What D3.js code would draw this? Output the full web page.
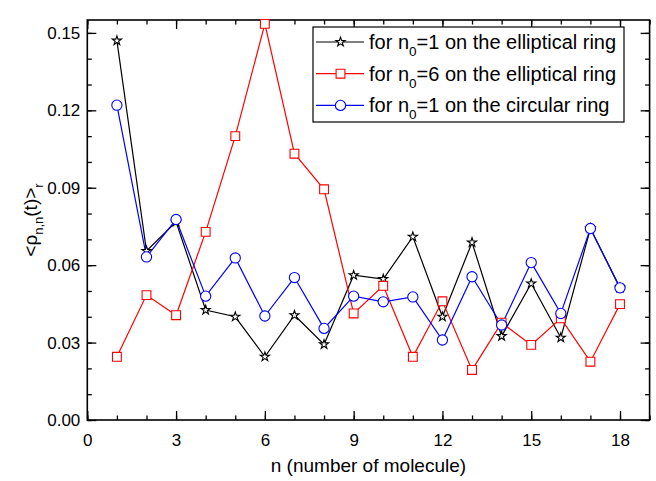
<!DOCTYPE html>
<html><head><meta charset="utf-8">
<script src="https://cdn.jsdelivr.net/npm/d3@7"></script>
<style>body{margin:0;background:#fff}svg{display:block}text{font-family:"Liberation Sans",Arial,sans-serif}</style>
</head><body><svg id="c" width="656" height="481"></svg>
<script>
const nValues = [1,2,3,4,5,6,7,8,9,10,11,12,13,14,15,16,17,18];
const ellipN1 = [0.147,0.0655,0.0768,0.0426,0.0400,0.0245,0.0406,0.0293,0.0561,0.0546,0.0710,0.0400,0.0688,0.0325,0.0529,0.0319,0.0742,0.0512];
const ellipN6 = [0.0245,0.0484,0.0406,0.0729,0.1100,0.1535,0.1032,0.0894,0.0413,0.0520,0.0245,0.0460,0.0194,0.0377,0.0291,0.0394,0.0226,0.0449];
const circN1  = [0.1220,0.0632,0.0777,0.0480,0.0628,0.0403,0.0552,0.0355,0.0480,0.0458,0.0477,0.0310,0.0555,0.0368,0.0610,0.0413,0.0742,0.0512];
const xTicks = [0,3,6,9,12,15,18];
const yTicks = [0.00,0.03,0.06,0.09,0.12,0.15];
const seriesNames = ["1 on the elliptical ring","6 on the elliptical ring","1 on the circular ring"];

const svg = d3.select("#c");
const L=87.3, R=649.6, T=20, B=420;
const x = d3.scaleLinear().domain([0,19]).range([L,R]);
const y = d3.scaleLinear().domain([0,0.155]).range([B,T]);

const series = [
  {vals: ellipN1, color:"#000000", sym:d3.symbolStar, size:26},
  {vals: ellipN6, color:"#ff0000", sym:d3.symbolSquare, size:78},
  {vals: circN1,  color:"#0000ff", sym:d3.symbolCircle, size:82}
];

const fmt = d3.format(".2f");
const minorX = d3.range(0,20,1), minorY = d3.range(0,0.155,0.01);
function drawAxis(axis, tr){ svg.append("g").attr("transform",tr).call(axis).call(g=>g.select(".domain").remove()).call(g=>g.selectAll("line").attr("stroke","#000").attr("stroke-width",1.3)); }
drawAxis(d3.axisBottom(x).tickValues(minorX).tickSize(-4.5).tickFormat(""), `translate(0,${B})`);
const bx = svg.append("g").attr("transform",`translate(0,${B})`).call(d3.axisBottom(x).tickValues(xTicks).tickSize(-9).tickPadding(14).tickFormat(d3.format("d")));
bx.select(".domain").remove();
bx.selectAll("line").attr("stroke","#000").attr("stroke-width",1.3);
bx.selectAll("text").attr("font-size",17).attr("fill","#000").attr("font-family","Liberation Sans, Arial, sans-serif");
drawAxis(d3.axisTop(x).tickValues(minorX).tickSize(-4.5).tickFormat(""), `translate(0,${T})`);
drawAxis(d3.axisTop(x).tickValues(xTicks).tickSize(-9).tickFormat(""), `translate(0,${T})`);
drawAxis(d3.axisLeft(y).tickValues(minorY).tickSize(-4.5).tickFormat(""), `translate(${L},0)`);
const ly = svg.append("g").attr("transform",`translate(${L},0)`).call(d3.axisLeft(y).tickValues(yTicks).tickSize(-9).tickPadding(7).tickFormat(fmt));
ly.select(".domain").remove();
ly.selectAll("line").attr("stroke","#000").attr("stroke-width",1.3);
ly.selectAll("text").attr("font-size",17).attr("fill","#000").attr("font-family","Liberation Sans, Arial, sans-serif");
drawAxis(d3.axisRight(y).tickValues(minorY).tickSize(-4.5).tickFormat(""), `translate(${R},0)`);
drawAxis(d3.axisRight(y).tickValues(yTicks).tickSize(-9).tickFormat(""), `translate(${R},0)`);
svg.append("rect").attr("x",L).attr("y",T).attr("width",R-L).attr("height",B-T).attr("fill","none").attr("stroke","#000").attr("stroke-width",1.6);

const line = d3.line().x((d,i)=>x(nValues[i])).y(d=>y(d));
series.forEach(s=>{
  svg.append("path").datum(s.vals).attr("d",line).attr("fill","none").attr("stroke",s.color).attr("stroke-width",1.2);
});
series.forEach(s=>{
  svg.append("g").selectAll("path").data(s.vals).join("path")
    .attr("transform",(d,i)=>`translate(${x(nValues[i])},${y(d)})`)
    .attr("d",d3.symbol().type(s.sym).size(s.size))
    .attr("fill","#fff").attr("stroke",s.color).attr("stroke-width",1.1);
});

const lg = svg.append("g");
lg.append("rect").attr("x",313).attr("y",27).attr("width",311).attr("height",95).attr("fill","#fff").attr("stroke","#000").attr("stroke-width",1.2);
series.forEach((s,i)=>{
  const cy = 42 + i*31.7;
  lg.append("line").attr("x1",316).attr("x2",364).attr("y1",cy).attr("y2",cy).attr("stroke",s.color).attr("stroke-width",1.2);
  lg.append("path").attr("transform",`translate(340.5,${cy})`).attr("d",d3.symbol().type(s.sym).size(s.size)).attr("fill","#fff").attr("stroke",s.color).attr("stroke-width",1.1);
  const t = lg.append("text").attr("x",369).attr("y",cy+7).attr("font-size",20).attr("fill","#000");
  t.append("tspan").text("for n");
  t.append("tspan").attr("font-size",13.5).attr("dy",7).text("0");
  t.append("tspan").attr("dy",-7).text("="+seriesNames[i]);
});

svg.append("text").attr("x",(L+R)/2).attr("y",472).attr("text-anchor","middle").attr("font-size",19).attr("fill","#000").text("n (number of molecule)");
const yt = svg.append("text").attr("transform",`translate(37,${(T+B)/2}) rotate(-90)`).attr("text-anchor","middle").attr("font-size",19).attr("fill","#000");
yt.append("tspan").text("<ρ");
yt.append("tspan").attr("font-size",13).attr("dy",6).text("n,n");
yt.append("tspan").attr("dy",-6).text("(t)>");
yt.append("tspan").attr("font-size",13).attr("dy",6).text("r");
</script></body></html>
